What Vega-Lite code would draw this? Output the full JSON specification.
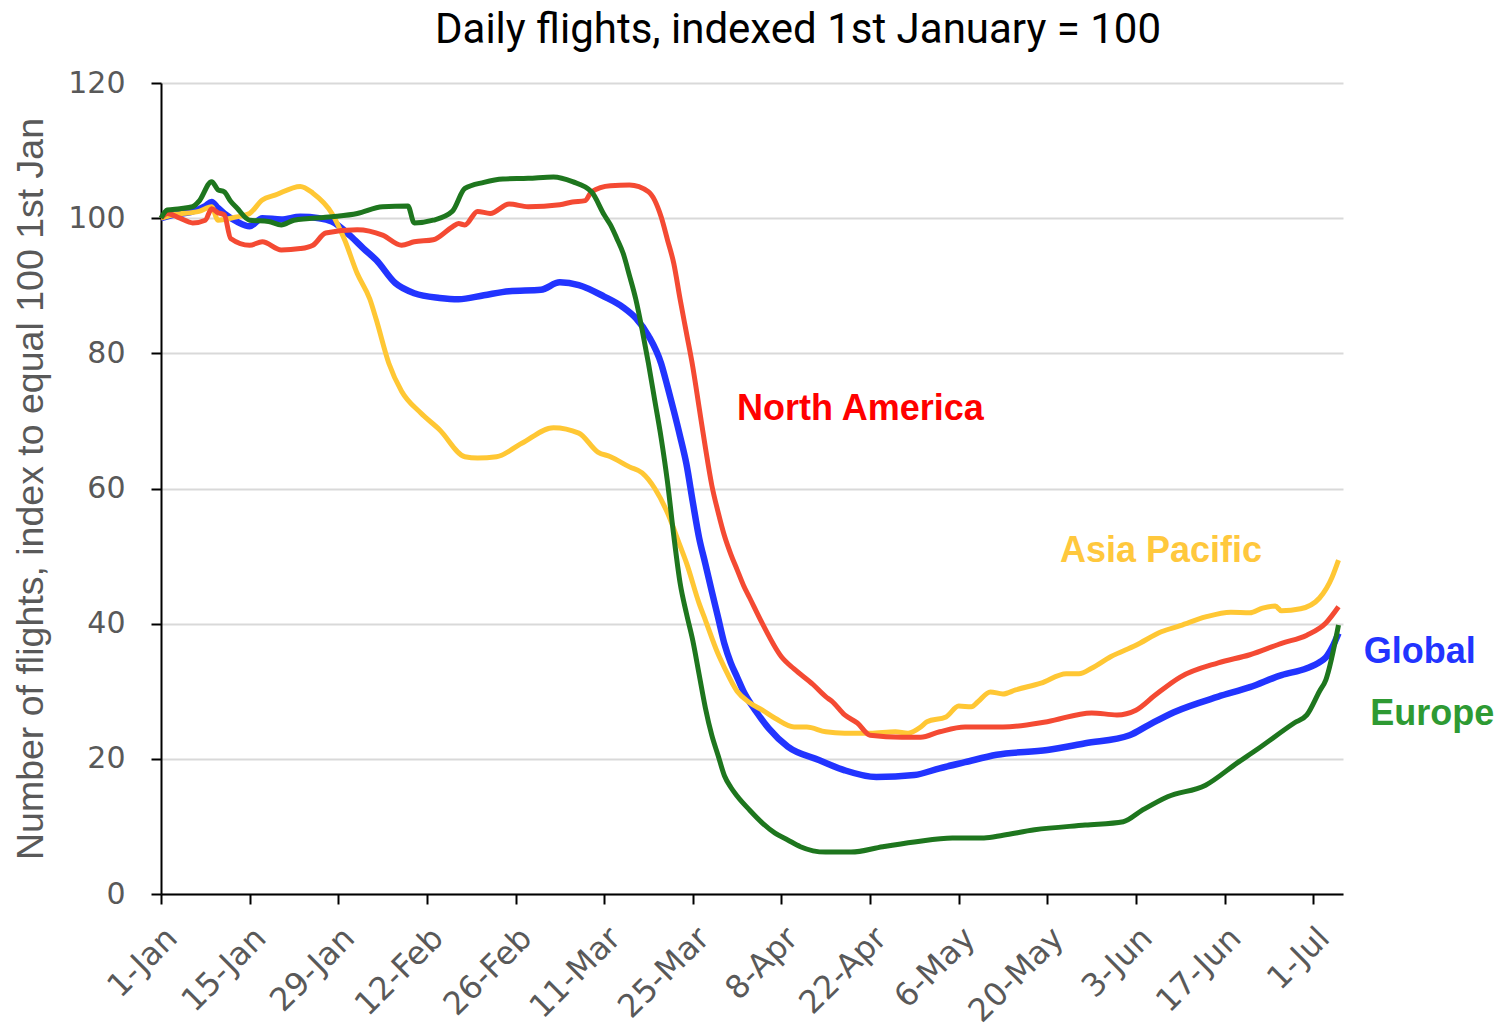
{
  "$schema": "https://vega.github.io/schema/vega-lite/v6.json",
  "width": 1182,
  "height": 811,
  "autosize": {"type": "none"},
  "padding": {"left": 161, "top": 83, "right": 155, "bottom": 136},
  "background": "white",
  "title": {"text": "Daily flights, indexed 1st January = 100", "font": "Roboto", "fontSize": 42, "fontWeight": "normal", "color": "#000000", "anchor": "middle", "dx": 46, "offset": 16},
  "config": {
    "view": {"stroke": null},
    "axis": {
      "domainColor": "#000000", "domainWidth": 2,
      "tickColor": "#000000", "tickWidth": 2, "tickSize": 10,
      "labelFont": "DejaVu Sans", "labelFontSize": 30, "labelColor": "#595959",
      "titleFont": "Liberation Sans", "titleFontSize": 37.5, "titleFontWeight": "normal", "titleColor": "#595959"
    }
  },
  "datasets": {
    "global": [
      {"date": "2020-01-01", "v": 100}, {"date": "2020-01-03", "v": 100.5}, {"date": "2020-01-06", "v": 101},
      {"date": "2020-01-08", "v": 101.8}, {"date": "2020-01-09", "v": 102.4}, {"date": "2020-01-10", "v": 101.5},
      {"date": "2020-01-11", "v": 100.7}, {"date": "2020-01-13", "v": 99.5}, {"date": "2020-01-15", "v": 98.8},
      {"date": "2020-01-17", "v": 100}, {"date": "2020-01-20", "v": 99.8}, {"date": "2020-01-23", "v": 100.2},
      {"date": "2020-01-26", "v": 100}, {"date": "2020-01-28", "v": 99.5}, {"date": "2020-01-31", "v": 97.3},
      {"date": "2020-02-02", "v": 95.5}, {"date": "2020-02-04", "v": 93.8}, {"date": "2020-02-07", "v": 90.4},
      {"date": "2020-02-10", "v": 88.9}, {"date": "2020-02-14", "v": 88.2}, {"date": "2020-02-17", "v": 88},
      {"date": "2020-02-21", "v": 88.6}, {"date": "2020-02-25", "v": 89.2}, {"date": "2020-03-01", "v": 89.4},
      {"date": "2020-03-04", "v": 90.5}, {"date": "2020-03-07", "v": 90.1}, {"date": "2020-03-11", "v": 88.4},
      {"date": "2020-03-14", "v": 86.8}, {"date": "2020-03-16", "v": 85.2}, {"date": "2020-03-18", "v": 82.6},
      {"date": "2020-03-20", "v": 78.5}, {"date": "2020-03-21", "v": 75.1}, {"date": "2020-03-22", "v": 71.5},
      {"date": "2020-03-23", "v": 67.7}, {"date": "2020-03-24", "v": 63.6}, {"date": "2020-03-25", "v": 58},
      {"date": "2020-03-26", "v": 52.7}, {"date": "2020-03-27", "v": 48.8}, {"date": "2020-03-28", "v": 44.8},
      {"date": "2020-03-29", "v": 40.9}, {"date": "2020-03-30", "v": 37}, {"date": "2020-03-31", "v": 34.2},
      {"date": "2020-04-01", "v": 32.1}, {"date": "2020-04-02", "v": 30}, {"date": "2020-04-04", "v": 27},
      {"date": "2020-04-06", "v": 24.5}, {"date": "2020-04-09", "v": 21.8}, {"date": "2020-04-14", "v": 19.8},
      {"date": "2020-04-18", "v": 18.3}, {"date": "2020-04-23", "v": 17.3}, {"date": "2020-04-29", "v": 17.6},
      {"date": "2020-05-03", "v": 18.6}, {"date": "2020-05-07", "v": 19.5}, {"date": "2020-05-12", "v": 20.6},
      {"date": "2020-05-20", "v": 21.3}, {"date": "2020-05-26", "v": 22.3}, {"date": "2020-06-02", "v": 23.5},
      {"date": "2020-06-05", "v": 25}, {"date": "2020-06-09", "v": 26.9}, {"date": "2020-06-16", "v": 29.2},
      {"date": "2020-06-21", "v": 30.6}, {"date": "2020-06-26", "v": 32.4}, {"date": "2020-06-30", "v": 33.4},
      {"date": "2020-07-02", "v": 34.3}, {"date": "2020-07-03", "v": 35}, {"date": "2020-07-04", "v": 36.5},
      {"date": "2020-07-05", "v": 38.6}
    ],
    "asia": [
      {"date": "2020-01-01", "v": 100}, {"date": "2020-01-03", "v": 100.5}, {"date": "2020-01-07", "v": 101},
      {"date": "2020-01-09", "v": 101.7}, {"date": "2020-01-10", "v": 99.7}, {"date": "2020-01-13", "v": 100.2},
      {"date": "2020-01-15", "v": 100.7}, {"date": "2020-01-17", "v": 102.7}, {"date": "2020-01-19", "v": 103.4},
      {"date": "2020-01-23", "v": 104.7}, {"date": "2020-01-25", "v": 103.7}, {"date": "2020-01-28", "v": 100.7},
      {"date": "2020-01-30", "v": 96.8}, {"date": "2020-02-01", "v": 91.8}, {"date": "2020-02-03", "v": 88},
      {"date": "2020-02-04", "v": 85}, {"date": "2020-02-06", "v": 78.5}, {"date": "2020-02-08", "v": 74.4},
      {"date": "2020-02-11", "v": 71.2}, {"date": "2020-02-14", "v": 68.7}, {"date": "2020-02-18", "v": 64.7},
      {"date": "2020-02-20", "v": 64.5}, {"date": "2020-02-23", "v": 64.7}, {"date": "2020-02-27", "v": 66.7},
      {"date": "2020-03-03", "v": 69}, {"date": "2020-03-07", "v": 68.2}, {"date": "2020-03-10", "v": 65.4},
      {"date": "2020-03-12", "v": 64.7}, {"date": "2020-03-15", "v": 63.2}, {"date": "2020-03-17", "v": 62.3},
      {"date": "2020-03-19", "v": 60}, {"date": "2020-03-21", "v": 56.4}, {"date": "2020-03-23", "v": 51.5},
      {"date": "2020-03-24", "v": 49}, {"date": "2020-03-26", "v": 43}, {"date": "2020-03-27", "v": 40.5},
      {"date": "2020-03-29", "v": 35.5}, {"date": "2020-03-30", "v": 33.5}, {"date": "2020-04-01", "v": 30},
      {"date": "2020-04-03", "v": 28.3}, {"date": "2020-04-05", "v": 27.2}, {"date": "2020-04-07", "v": 26},
      {"date": "2020-04-10", "v": 24.7}, {"date": "2020-04-12", "v": 24.7}, {"date": "2020-04-15", "v": 24},
      {"date": "2020-04-18", "v": 23.8}, {"date": "2020-04-22", "v": 23.8}, {"date": "2020-04-26", "v": 24},
      {"date": "2020-04-28", "v": 23.8}, {"date": "2020-04-30", "v": 24.7}, {"date": "2020-05-01", "v": 25.5},
      {"date": "2020-05-04", "v": 26.2}, {"date": "2020-05-06", "v": 27.8}, {"date": "2020-05-08", "v": 27.7},
      {"date": "2020-05-09", "v": 28.4}, {"date": "2020-05-11", "v": 29.9}, {"date": "2020-05-13", "v": 29.6},
      {"date": "2020-05-15", "v": 30.2}, {"date": "2020-05-19", "v": 31.2}, {"date": "2020-05-23", "v": 32.6},
      {"date": "2020-05-25", "v": 32.6}, {"date": "2020-05-27", "v": 33.4}, {"date": "2020-05-30", "v": 35.1},
      {"date": "2020-06-03", "v": 36.8}, {"date": "2020-06-07", "v": 38.8}, {"date": "2020-06-10", "v": 39.7},
      {"date": "2020-06-14", "v": 41}, {"date": "2020-06-18", "v": 41.7}, {"date": "2020-06-21", "v": 41.6},
      {"date": "2020-06-23", "v": 42.3}, {"date": "2020-06-25", "v": 42.6}, {"date": "2020-06-26", "v": 41.9},
      {"date": "2020-06-29", "v": 42.2}, {"date": "2020-07-02", "v": 43.8}, {"date": "2020-07-04", "v": 46.9},
      {"date": "2020-07-05", "v": 49.4}
    ],
    "namerica": [
      {"date": "2020-01-01", "v": 100}, {"date": "2020-01-02", "v": 100.7}, {"date": "2020-01-04", "v": 100},
      {"date": "2020-01-06", "v": 99.3}, {"date": "2020-01-08", "v": 99.7}, {"date": "2020-01-09", "v": 101.4},
      {"date": "2020-01-10", "v": 100.8}, {"date": "2020-01-11", "v": 100.5}, {"date": "2020-01-12", "v": 97},
      {"date": "2020-01-15", "v": 96}, {"date": "2020-01-17", "v": 96.5}, {"date": "2020-01-20", "v": 95.3},
      {"date": "2020-01-23", "v": 95.5}, {"date": "2020-01-25", "v": 96}, {"date": "2020-01-27", "v": 97.8},
      {"date": "2020-02-01", "v": 98.3}, {"date": "2020-02-05", "v": 97.5}, {"date": "2020-02-08", "v": 96},
      {"date": "2020-02-10", "v": 96.5}, {"date": "2020-02-13", "v": 96.8}, {"date": "2020-02-16", "v": 98.7},
      {"date": "2020-02-17", "v": 99.2}, {"date": "2020-02-18", "v": 99}, {"date": "2020-02-20", "v": 101},
      {"date": "2020-02-22", "v": 100.7}, {"date": "2020-02-25", "v": 102.1}, {"date": "2020-02-28", "v": 101.7},
      {"date": "2020-03-04", "v": 102}, {"date": "2020-03-06", "v": 102.4}, {"date": "2020-03-08", "v": 102.6},
      {"date": "2020-03-09", "v": 103.9}, {"date": "2020-03-12", "v": 104.8}, {"date": "2020-03-15", "v": 104.9},
      {"date": "2020-03-18", "v": 103.9}, {"date": "2020-03-20", "v": 100.2}, {"date": "2020-03-21", "v": 96.8},
      {"date": "2020-03-22", "v": 93.3}, {"date": "2020-03-23", "v": 88}, {"date": "2020-03-24", "v": 83},
      {"date": "2020-03-25", "v": 78}, {"date": "2020-03-26", "v": 72}, {"date": "2020-03-27", "v": 66},
      {"date": "2020-03-28", "v": 60.5}, {"date": "2020-03-29", "v": 56.5}, {"date": "2020-03-30", "v": 53},
      {"date": "2020-03-31", "v": 50.3}, {"date": "2020-04-01", "v": 48}, {"date": "2020-04-02", "v": 45.7},
      {"date": "2020-04-03", "v": 43.8}, {"date": "2020-04-05", "v": 40}, {"date": "2020-04-08", "v": 35.1},
      {"date": "2020-04-10", "v": 33.3}, {"date": "2020-04-13", "v": 31}, {"date": "2020-04-15", "v": 29.2},
      {"date": "2020-04-16", "v": 28.5}, {"date": "2020-04-18", "v": 26.5}, {"date": "2020-04-20", "v": 25.3},
      {"date": "2020-04-22", "v": 23.5}, {"date": "2020-04-27", "v": 23.2}, {"date": "2020-04-30", "v": 23.2},
      {"date": "2020-05-03", "v": 24}, {"date": "2020-05-07", "v": 24.7}, {"date": "2020-05-13", "v": 24.7},
      {"date": "2020-05-20", "v": 25.5}, {"date": "2020-05-27", "v": 26.8}, {"date": "2020-05-31", "v": 26.5},
      {"date": "2020-06-03", "v": 27.2}, {"date": "2020-06-06", "v": 29.4}, {"date": "2020-06-10", "v": 32.1},
      {"date": "2020-06-16", "v": 34.2}, {"date": "2020-06-21", "v": 35.4}, {"date": "2020-06-26", "v": 37.1},
      {"date": "2020-06-30", "v": 38.3}, {"date": "2020-07-03", "v": 40.1}, {"date": "2020-07-05", "v": 42.5}
    ],
    "europe": [
      {"date": "2020-01-01", "v": 100}, {"date": "2020-01-02", "v": 101.2}, {"date": "2020-01-04", "v": 101.4},
      {"date": "2020-01-06", "v": 101.7}, {"date": "2020-01-07", "v": 102.5}, {"date": "2020-01-09", "v": 105.4},
      {"date": "2020-01-10", "v": 104.2}, {"date": "2020-01-11", "v": 103.9}, {"date": "2020-01-12", "v": 102.5},
      {"date": "2020-01-13", "v": 101.5}, {"date": "2020-01-15", "v": 99.7}, {"date": "2020-01-18", "v": 99.5},
      {"date": "2020-01-20", "v": 99}, {"date": "2020-01-22", "v": 99.7}, {"date": "2020-01-28", "v": 100.2},
      {"date": "2020-02-01", "v": 100.7}, {"date": "2020-02-05", "v": 101.7}, {"date": "2020-02-09", "v": 101.8},
      {"date": "2020-02-10", "v": 99.3}, {"date": "2020-02-13", "v": 99.7}, {"date": "2020-02-16", "v": 101},
      {"date": "2020-02-18", "v": 104.4}, {"date": "2020-02-21", "v": 105.3}, {"date": "2020-02-24", "v": 105.8},
      {"date": "2020-02-28", "v": 105.9}, {"date": "2020-03-03", "v": 106.1}, {"date": "2020-03-06", "v": 105.4},
      {"date": "2020-03-09", "v": 103.9}, {"date": "2020-03-11", "v": 100.5}, {"date": "2020-03-12", "v": 99},
      {"date": "2020-03-13", "v": 97}, {"date": "2020-03-14", "v": 94.8}, {"date": "2020-03-15", "v": 91.5},
      {"date": "2020-03-16", "v": 88}, {"date": "2020-03-17", "v": 83.5}, {"date": "2020-03-18", "v": 78.5},
      {"date": "2020-03-19", "v": 73}, {"date": "2020-03-20", "v": 67.5}, {"date": "2020-03-21", "v": 61},
      {"date": "2020-03-22", "v": 53}, {"date": "2020-03-23", "v": 46}, {"date": "2020-03-24", "v": 41.5},
      {"date": "2020-03-25", "v": 37.5}, {"date": "2020-03-26", "v": 32.5}, {"date": "2020-03-27", "v": 27.5},
      {"date": "2020-03-28", "v": 23.5}, {"date": "2020-03-29", "v": 20.5}, {"date": "2020-03-30", "v": 17.5},
      {"date": "2020-03-31", "v": 15.8}, {"date": "2020-04-01", "v": 14.5}, {"date": "2020-04-03", "v": 12.4},
      {"date": "2020-04-05", "v": 10.5}, {"date": "2020-04-07", "v": 9}, {"date": "2020-04-09", "v": 8},
      {"date": "2020-04-11", "v": 7}, {"date": "2020-04-15", "v": 6.2}, {"date": "2020-04-19", "v": 6.2},
      {"date": "2020-04-24", "v": 7}, {"date": "2020-04-29", "v": 7.7}, {"date": "2020-05-05", "v": 8.3},
      {"date": "2020-05-10", "v": 8.3}, {"date": "2020-05-13", "v": 8.7}, {"date": "2020-05-18", "v": 9.5},
      {"date": "2020-05-26", "v": 10.2}, {"date": "2020-06-01", "v": 10.7}, {"date": "2020-06-04", "v": 12.4},
      {"date": "2020-06-08", "v": 14.4}, {"date": "2020-06-14", "v": 16.1}, {"date": "2020-06-19", "v": 19.4},
      {"date": "2020-06-22", "v": 21.3}, {"date": "2020-06-28", "v": 25.3}, {"date": "2020-06-30", "v": 26.5},
      {"date": "2020-07-02", "v": 30}, {"date": "2020-07-03", "v": 31.7}, {"date": "2020-07-05", "v": 39.8}
    ],
    "labels": [
      {"date": "2020-04-01", "v": 71.8, "label": "North America"},
      {"date": "2020-05-22", "v": 50.8, "label": "Asia Pacific"},
      {"date": "2020-07-09", "v": 35.8, "label": "Global"},
      {"date": "2020-07-10", "v": 26.6, "label": "Europe"}
    ]
  },
  "layer": [
    {
      "data": {"name": "global"},
      "mark": {"type": "line", "color": "#2234FF", "strokeWidth": 6.5, "strokeJoin": "round", "interpolate": "monotone"},
      "encoding": {
        "x": {"field": "date", "type": "temporal",
          "scale": {"type": "utc", "domain": [{"year": 2020, "month": 1, "date": 1, "utc": true}, {"year": 2020, "month": 7, "date": 5, "hours": 17, "utc": true}]},
          "axis": {"title": null, "grid": false, "format": "%-d-%b", "labelAngle": -45, "labelAlign": "right", "labelBaseline": "top", "labelPadding": 18, "labelFontSize": 32, "labelOverlap": false, "labelBound": false, "labelFlush": false,
            "values": [
              {"year": 2020, "month": 1, "date": 1, "utc": true}, {"year": 2020, "month": 1, "date": 15, "utc": true},
              {"year": 2020, "month": 1, "date": 29, "utc": true}, {"year": 2020, "month": 2, "date": 12, "utc": true},
              {"year": 2020, "month": 2, "date": 26, "utc": true}, {"year": 2020, "month": 3, "date": 11, "utc": true},
              {"year": 2020, "month": 3, "date": 25, "utc": true}, {"year": 2020, "month": 4, "date": 8, "utc": true},
              {"year": 2020, "month": 4, "date": 22, "utc": true}, {"year": 2020, "month": 5, "date": 6, "utc": true},
              {"year": 2020, "month": 5, "date": 20, "utc": true}, {"year": 2020, "month": 6, "date": 3, "utc": true},
              {"year": 2020, "month": 6, "date": 17, "utc": true}, {"year": 2020, "month": 7, "date": 1, "utc": true}
            ]}},
        "y": {"field": "v", "type": "quantitative",
          "scale": {"domain": [0, 120], "nice": false, "zero": true},
          "axis": {"title": "Number of flights, index to equal 100 1st Jan", "values": [0, 20, 40, 60, 80, 100, 120],
            "grid": true, "gridColor": "#D9D9D9", "gridWidth": 2, "labelPadding": 26, "titlePadding": 17}}
      }
    },
    {
      "data": {"name": "asia"},
      "mark": {"type": "line", "color": "#FFC734", "strokeWidth": 5, "strokeJoin": "round", "interpolate": "monotone"},
      "encoding": {
        "x": {"field": "date", "type": "temporal"},
        "y": {"field": "v", "type": "quantitative"}
      }
    },
    {
      "data": {"name": "namerica"},
      "mark": {"type": "line", "color": "#F44A33", "strokeWidth": 5, "strokeJoin": "round", "interpolate": "monotone"},
      "encoding": {
        "x": {"field": "date", "type": "temporal"},
        "y": {"field": "v", "type": "quantitative"}
      }
    },
    {
      "data": {"name": "europe"},
      "mark": {"type": "line", "color": "#1E761E", "strokeWidth": 5, "strokeJoin": "round", "interpolate": "monotone"},
      "encoding": {
        "x": {"field": "date", "type": "temporal"},
        "y": {"field": "v", "type": "quantitative"}
      }
    },
    {
      "data": {"name": "labels"},
      "mark": {"type": "text", "font": "Liberation Sans", "fontSize": 36, "fontWeight": "bold", "align": "left", "baseline": "middle"},
      "encoding": {
        "x": {"field": "date", "type": "temporal"},
        "y": {"field": "v", "type": "quantitative"},
        "text": {"field": "label"},
        "color": {"field": "label", "type": "nominal", "legend": null,
          "scale": {"domain": ["North America", "Asia Pacific", "Global", "Europe"], "range": ["#FF0000", "#FFC83D", "#2234FF", "#2E9A33"]}}
      }
    }
  ]
}
